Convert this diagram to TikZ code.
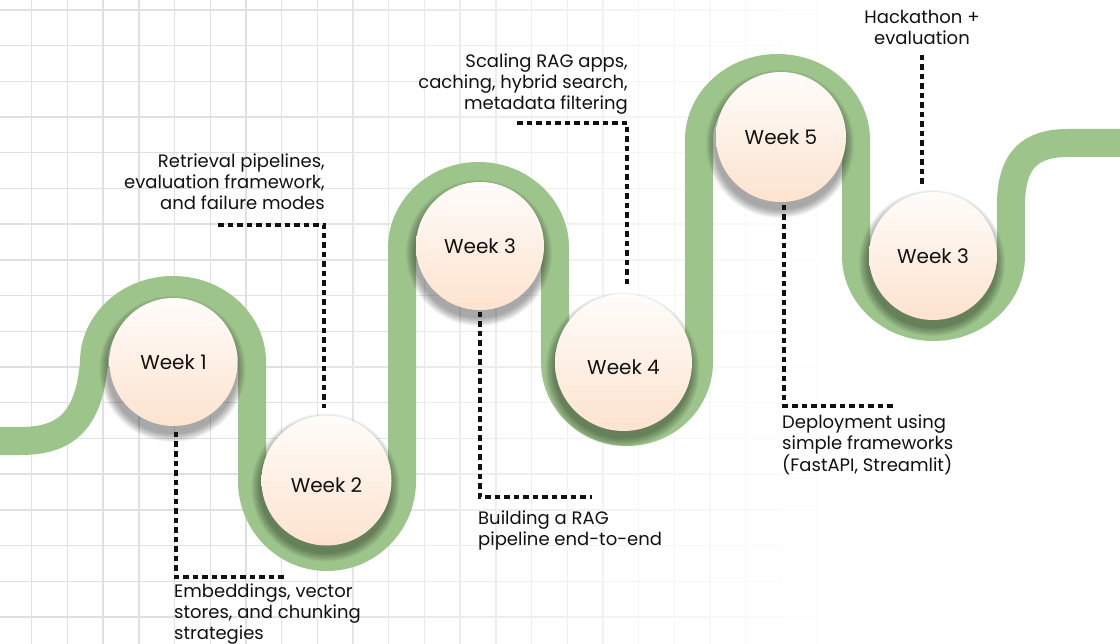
\documentclass[tikz,border=0pt]{standalone}
\usepackage{fontspec}
\setmainfont{Poppins}
\usetikzlibrary{calc}
\definecolor{pathgreen}{HTML}{9DC48B}
\definecolor{circtop}{HTML}{FFFCFA}
\definecolor{circbot}{HTML}{FDE3CF}
\definecolor{ink}{HTML}{111111}
\tikzset{
  road/.style={line width=28pt, draw=pathgreen},
  weekcirc/.style={circle, minimum size=128pt, inner sep=0pt, top color=circtop, bottom color=circbot, draw=none, text=ink, font=\fontsize{20}{24}\selectfont},
  lowtext/.style={text height=24pt, text depth=0pt},
  conn/.style={line width=3.4pt, dash pattern=on 5.5pt off 4pt, draw=ink},
  desc/.style={inner sep=0pt, text=ink, font=\fontsize{18}{21}\selectfont},
}
\begin{document}
\begin{tikzpicture}[x=1pt,y=-1pt]
\useasboundingbox (0,0) rectangle (1120,644);
\fill[white] (0,0) rectangle (1120,644);
% grid, fading to the right
\foreach \i in {0,...,30}{
  \pgfmathsetmacro\gx{31.7+35.7*\i}
  \pgfmathsetmacro\gp{12*min(1,max(0,(860-\gx)/600))}
  \draw[line width=1.4pt, draw=black!\gp] (\gx,0) -- (\gx,644);
}
\foreach \j in {0,...,17}{
  \pgfmathsetmacro\gy{10+35.7*\j}
  \foreach \i in {0,...,31}{
    \pgfmathsetmacro\xa{31.7+35.7*(\i-1)}
    \pgfmathsetmacro\xb{\xa+35.7}
    \pgfmathsetmacro\gp{12*min(1,max(0,(860-\xa-17.85)/600))}
    \draw[line width=1.4pt, draw=black!\gp] (\xa,\gy) -- (\xb,\gy);
  }
}
% the road
\draw[road] (0,441) -- (20,441) .. controls (62,441) and (89,425) .. (94,362)
  arc[start angle=180, end angle=360, x radius=79, y radius=72]
  -- (252,481) arc[start angle=180, end angle=0, x radius=75, y radius=76]
  -- (402,248) arc[start angle=180, end angle=360, x radius=76.5, y radius=72]
  -- (555,362) arc[start angle=180, end angle=0, x radius=72, y radius=70]
  -- (699,140) arc[start angle=180, end angle=360, x radius=78.5, y radius=72]
  -- (856,256) arc[start angle=180, end angle=0, x radius=77.5, y radius=71]
  -- (1011,205) .. controls (1011,160) and (1030,143) .. (1068,143) -- (1125,143);
% shadows
\foreach \cx/\cy/\r in {173.5/362/64, 326.5/480.5/65, 480/246/64, 623.5/362.5/68, 781/137/65, 933/256/64}{
  \foreach \k in {1,...,9}{
    \fill[black, opacity=0.045] (\cx-1,\cy+7) circle[radius=\r+10-\k];
  }
}
% circles
\node[weekcirc] (w1) at (173.5,362) {Week 1};
\node[weekcirc, lowtext, minimum size=130pt] (w2) at (326.5,480.5) {Week 2};
\node[weekcirc] (w3) at (480,246) {Week 3};
\node[weekcirc, lowtext, minimum size=137pt] (w4) at (623.5,362.5) {Week 4};
\node[weekcirc, minimum size=130pt] (w5) at (781,137) {Week 5};
\node[weekcirc] (w6) at (933,256) {Week 3};
% descriptions
\node[desc, anchor=north west, align=left] (t1) at (174,583.5) {Embeddings, vector\\stores, and chunking\\strategies};
\node[desc, anchor=north east, align=right] (t2) at (325,153.5) {Retrieval pipelines,\\evaluation framework,\\and failure modes};
\node[desc, anchor=north west, align=left] (t3) at (478,510.5) {Building a RAG\\pipeline end-to-end};
\node[desc, anchor=north east, align=right] (t4) at (628,53.5) {Scaling RAG apps,\\caching, hybrid search,\\metadata filtering};
\node[desc, anchor=north west, align=left] (t5) at (782,414.5) {Deployment using\\simple frameworks\\(FastAPI, Streamlit)};
\node[desc, anchor=north, align=center] (t6) at (922,9.5) {Hackathon +\\evaluation};
% connector points
\coordinate (c1a) at (176,432); \coordinate (c1b) at (176,577); \coordinate (c1c) at (285,577);
\coordinate (c2a) at (218,225); \coordinate (c2b) at (324,225); \coordinate (c2c) at (324,408);
\coordinate (c3a) at (480,312); \coordinate (c3b) at (480,497); \coordinate (c3c) at (592,497);
\coordinate (c4a) at (517,123); \coordinate (c4b) at (627,123); \coordinate (c4c) at (627,285);
\coordinate (c5a) at (784,205); \coordinate (c5b) at (784,406); \coordinate (c5c) at (893,406);
\coordinate (c6a) at (922,55); \coordinate (c6b) at (922,186);
\draw[conn] (c1a) -- (c1b) -- (c1c);
\draw[conn] (c2a) -- (c2b) -- (c2c);
\draw[conn] (c3a) -- (c3b) -- (c3c);
\draw[conn] (c4a) -- (c4b) -- (c4c);
\draw[conn] (c5a) -- (c5b) -- (c5c);
\draw[conn] (c6a) -- (c6b);
\end{tikzpicture}
\end{document}
